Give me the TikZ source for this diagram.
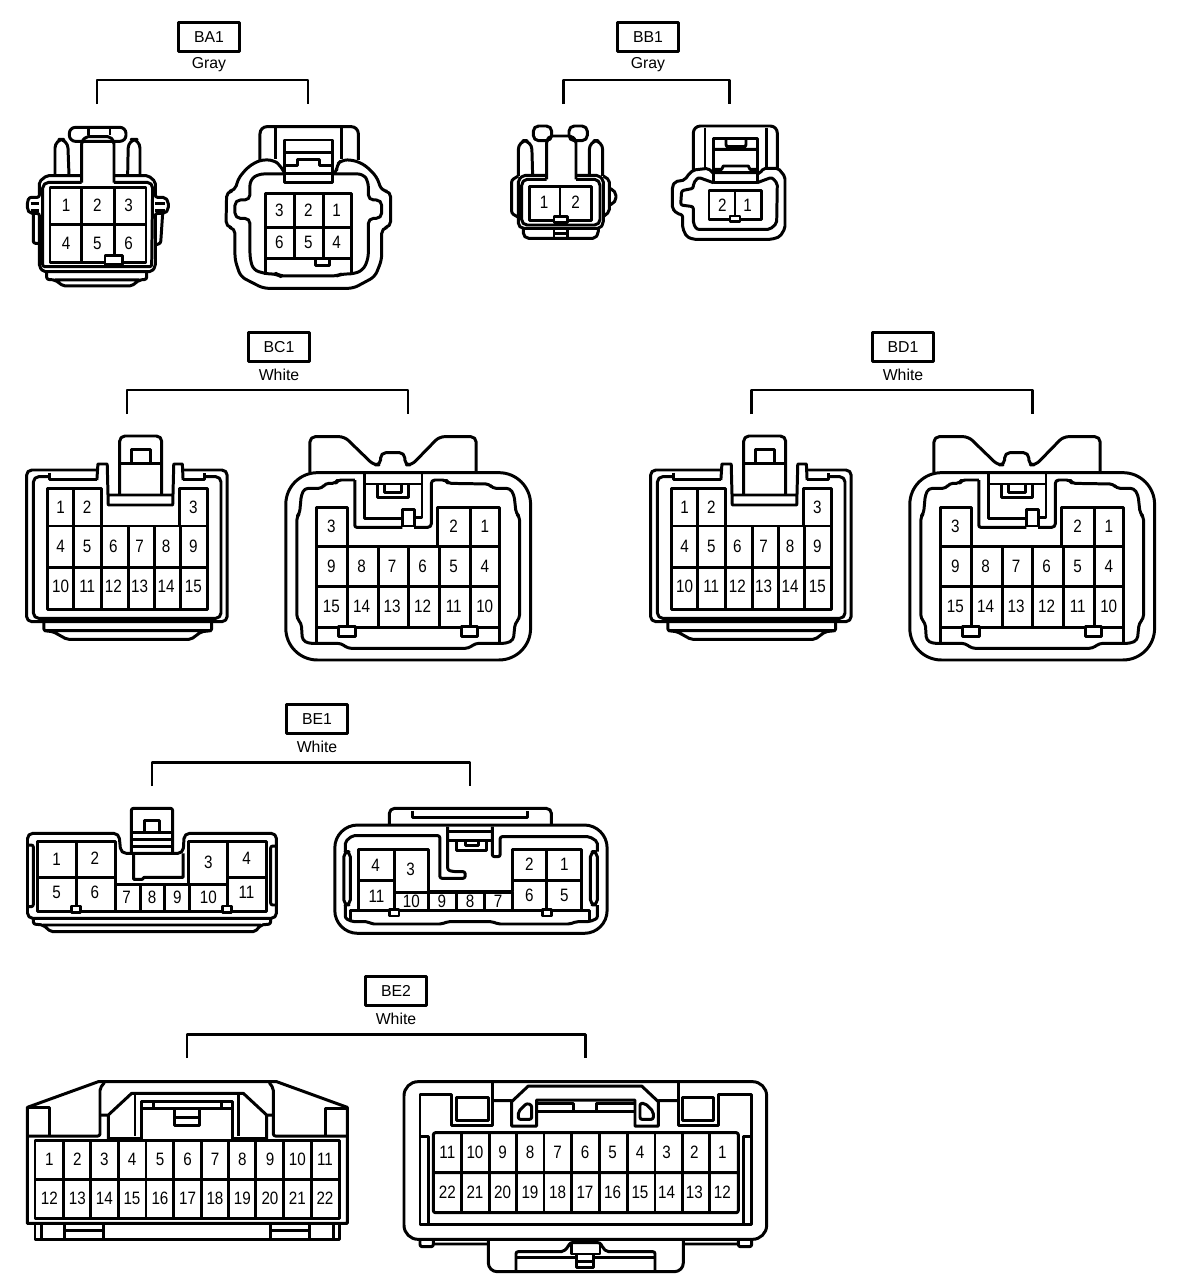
\documentclass[tikz,border=0pt]{standalone}
\usepackage{fontspec}
\setmainfont{Liberation Sans}
\newfontfamily\pinfont[FakeStretch=0.85]{Liberation Sans}
\tikzset{
	tagbox/.style={draw,sharp corners,minimum width=1.22cm,minimum height=0.57cm,inner sep=0pt,font=\fontsize{9}{9}\selectfont},
	tagtxt/.style={inner sep=0pt,font=\fontsize{9}{9}\selectfont},
	pin/.style={inner sep=0pt,font=\pinfont\fontsize{10.2}{10.2}\selectfont},
	keybox/.style={draw,fill=white},
	crop/.style={x=0.0066667cm,y=-0.0066667cm},
	cropbc/.style={x=0.0068966cm,y=-0.0066667cm},
	cropbe/.style={x=0.007782cm,y=-0.0066667cm},
}
\begin{document}
\begin{tikzpicture}[x=0.02cm,y=-0.02cm,line width=1.7pt,rounded corners=1.2pt,line join=round]
	\useasboundingbox (0,0) rectangle (1200,1288);

	% labels and brackets
	\foreach \nm/\txt/\col/\cx/\cy/\xl/\xr/\yb in {ba/BA1/Gray/209/37/97/308/104,bb/BB1/Gray/648/37/563/729/104,bc/BC1/White/279/347/127/408/414,bd/BD1/White/903/347/751/1032/414,be/BE1/White/317/719/152/470/786,bf/BE2/White/396/991/187/585/1058}{
		\node[tagbox] (\nm) at (\cx,\cy) {\txt};
		\node[tagtxt] (\nm col) at (\cx,\cy+28) {\col};
		\coordinate (\nm a) at (\xl,\yb);
		\coordinate (\nm b) at (\xr,\yb);
		\draw[sharp corners] (\nm a) -- ++(0,-24) -| (\nm b);
	}

	% BA1
	\begin{scope}[crop]
		\draw[rounded corners=3.5pt] (208,382) rectangle (378,424);
		\draw (265,382) -- (265,406) (330,382) -- (330,406);
		\draw (245,548) -- (245,425) -- (258,410) -- (330,410) -- (342,425) -- (342,548);
		\draw[rounded corners=5pt] (165,525) -- (165,418) -- (203,418) -- (207,525);
		\draw[rounded corners=5pt] (383,525) -- (385,418) -- (420,418) -- (420,525);
		\draw (245,527) -- (140,527) -- (118,545) -- (118,592) -- (88,592) -- (82,605) -- (82,628) -- (90,640) -- (118,640) -- (118,800) -- (130,815) -- (455,815) -- (466,800) -- (466,640) -- (495,640) -- (505,628) -- (505,605) -- (495,592) -- (466,592) -- (466,545) -- (445,527) -- (342,527);
		\draw (245,547) -- (140,547) -- (128,558) -- (128,800) -- (455,800) -- (458,558) -- (448,547) -- (342,547);
		\draw (92,610) -- (118,610) (92,632) -- (118,632) (466,610) -- (495,610) (466,632) -- (495,632);
		\draw (100,640) -- (100,730) -- (118,730) (488,640) -- (482,730) -- (466,735);
		\draw[sharp corners] (150,562) rectangle (438,788);
		\draw (150,675) -- (438,675) (245,562) -- (245,788) (343,562) -- (343,770);
		\draw[keybox,sharp corners] (315,768) rectangle (367,795);
		\draw (140,815) -- (140,838) -- (165,840) -- (190,858) -- (395,858) -- (418,840) -- (440,838) -- (440,815) (165,840) -- (418,840);
		\foreach \n/\px/\py in {1/198/615,2/292/615,3/386/615,4/198/730,5/292/730,6/386/730}{
			\node[pin] (bal\n) at (\px,\py) {\n};
		}
		% mating side
		\draw[rounded corners=3pt] (855,522) -- (840,495) -- (820,480) -- (780,480) -- (745,500) -- (715,535) -- (705,572) -- (680,575) -- (678,680) -- (705,685) -- (705,780) -- (722,830) -- (790,865) -- (1060,865) -- (1125,830) -- (1145,780) -- (1145,685) -- (1172,680) -- (1172,575) -- (1145,572) -- (1130,530) -- (1095,495) -- (1060,480) -- (1025,480) -- (1010,495) -- (1010,522) -- (997,522);
		\draw[rounded corners=4pt] (780,480) -- (780,380) -- (1075,380) -- (1075,480);
		\draw (828,385) -- (828,478) (1025,385) -- (1025,478);
		\draw[rounded corners=3pt] (855,522) -- (775,522) -- (750,540) -- (750,600) -- (705,600) -- (705,655) -- (750,655) -- (750,775) -- (760,810) -- (800,822) -- (830,822) -- (840,828) -- (1010,828) -- (1025,822) -- (1060,822) -- (1090,810) -- (1105,775) -- (1105,655) -- (1145,655) -- (1145,600) -- (1105,600) -- (1105,545) -- (1090,522) -- (997,522);
		\draw[fill=white,sharp corners] (855,420) rectangle (997,548);
		\draw (855,458) -- (997,458) (855,520) -- (997,520);
		\draw[sharp corners] (858,498) -- (893,498) -- (893,480) -- (960,480) -- (960,498) -- (995,498);
		\draw[sharp corners] (796,825) -- (796,582) -- (1055,582) -- (1055,825);
		\draw (796,682) -- (1055,682) (796,777) -- (1055,777) (885,582) -- (885,777) (970,582) -- (970,777);
		\draw[keybox,sharp corners] (948,775) rectangle (990,798);
		\foreach \n/\px/\py in {3/838/630,2/925/630,1/1010/630,6/838/728,5/925/728,4/1010/728}{
			\node[pin] (bar\n) at (\px,\py) {\n};
		}
	\end{scope}

	% BB1
	\begin{scope}[shift={(490,100)},crop]
		\draw[rounded corners=3pt] (130,78) rectangle (185,122) (237,78) rectangle (292,122);
		\draw (170,238) -- (170,122) -- (180,108) -- (245,108) -- (258,122) -- (258,238);
		\draw[rounded corners=5pt] (85,228) -- (85,122) -- (125,122) -- (128,228);
		\draw[rounded corners=5pt] (298,228) -- (298,122) -- (338,122) -- (338,228);
		\draw (170,226) -- (100,226) -- (85,240) -- (85,375) -- (95,385) -- (330,385) -- (340,370) -- (340,240) -- (325,226) -- (258,226);
		\draw (170,238) -- (105,238) -- (95,250) -- (95,365) -- (105,375) -- (320,375) -- (330,365) -- (330,250) -- (320,238) -- (258,238);
		\draw (85,228) -- (65,240) -- (65,340) -- (85,352) (340,228) -- (358,240) -- (358,335) -- (340,350);
		\draw[rounded corners=3pt] (358,265) -- (378,272) -- (378,308) -- (358,315);
		\draw[sharp corners] (118,260) rectangle (305,362) (210,260) -- (210,352);
		\draw[keybox,sharp corners] (192,350) rectangle (232,367);
		\draw (100,385) -- (100,405) -- (110,415) -- (315,415) -- (325,400) -- (325,385);
		\draw (192,385) -- (192,415) (232,385) -- (232,415) (192,400) -- (232,400);
		\foreach \n/\px/\py in {1/162/308,2/257/308}{
			\node[pin] (bbl\n) at (\px,\py) {\n};
		}
		% mating side
		\draw (670,220) -- (655,205) -- (610,210) -- (590,230) -- (585,240) -- (555,245) -- (547,260) -- (547,325) -- (560,340) -- (578,345) -- (578,385) -- (590,410) -- (610,418) -- (845,418) -- (870,410) -- (885,385) -- (885,230) -- (865,205) -- (820,205) -- (810,220) -- (802,222);
		\draw[rounded corners=4pt] (610,210) -- (610,78) -- (862,78) -- (862,205);
		\draw (645,85) -- (645,205) (830,85) -- (830,205);
		\draw (670,248) -- (625,232) -- (610,250) -- (610,265) -- (575,272) -- (572,315) -- (610,320) -- (610,370) -- (620,388) -- (840,388) -- (860,370) -- (862,250) -- (845,232) -- (802,248);
		\draw[fill=white,sharp corners] (670,115) rectangle (802,248);
		\draw (670,148) -- (802,148) (670,218) -- (802,218) (708,118) -- (708,140) -- (768,140) -- (768,118);
		\draw[sharp corners] (670,208) -- (695,208) -- (700,198) -- (775,198) -- (780,208) -- (802,208);
		\draw[sharp corners] (657,272) rectangle (815,358) (735,272) -- (735,348);
		\draw[keybox,sharp corners] (720,348) rectangle (750,365);
		\foreach \n/\px/\py in {2/697/315,1/773/315}{
			\node[pin] (bbr\n) at (\px,\py) {\n};
		}
	\end{scope}

	% BC1 and BD1
	\foreach \dx/\pre in {0/bc,624/bd}{
	\begin{scope}[shift={(10+\dx,420)},cropbc]
		\draw[rounded corners=3pt] (318,225) -- (318,48) -- (440,48) -- (440,225);
		\draw[sharp corners] (352,130) -- (352,88) -- (408,88) -- (408,130) (318,130) -- (440,130);
		\draw[rounded corners=3pt] (252,150) -- (48,150) -- (48,605) -- (630,605) -- (630,150) -- (500,150);
		\draw[sharp corners] (252,180) -- (255,132) -- (282,132) -- (285,255) -- (472,255) -- (475,132) -- (500,132) -- (502,180) (285,225) -- (472,225);
		\draw[rounded corners=3pt] (115,170) -- (68,170) -- (68,595) -- (612,595) -- (612,170) -- (565,170);
		\draw[sharp corners] (115,158) -- (115,178) -- (252,178) (502,178) -- (565,178) -- (565,158);
		\draw[sharp corners] (108,205) -- (265,205) -- (265,318) -- (492,318) -- (492,205) -- (572,205) -- (572,568) -- (108,568) -- cycle;
		\draw (185,205) -- (185,568) (265,318) -- (265,568) (343,318) -- (343,568) (418,318) -- (418,568) (495,318) -- (495,568) (108,318) -- (572,318) (108,442) -- (572,442);
		\draw (98,605) -- (98,632) -- (125,635) -- (165,658) -- (525,658) -- (555,635) -- (585,632) -- (585,605) (98,632) -- (585,632);
		\foreach \n/\px/\py in {1/147/262,2/224/262,3/532/262,4/147/378,5/224/378,6/300/378,7/376/378,8/453/378,9/532/378,10/147/500,11/224/500,12/300/500,13/376/500,14/453/500,15/532/500}{
			\node[pin] (\pre l\n) at (\px,\py) {\n};
		}
		% mating side
		\draw[rounded corners=3pt] (870,158) -- (870,50) -- (970,50) -- (1055,135) -- (1075,135) -- (1075,98) -- (1145,98) -- (1145,135) -- (1165,135) -- (1245,50) -- (1352,50) -- (1352,158);
		\draw[rounded corners=18pt] (1100,158) -- (800,158) -- (800,720) -- (1510,720) -- (1510,158) -- cycle;
		\draw[rounded corners=2pt] (1000,180) -- (950,180) -- (945,190) -- (915,190) -- (905,205) -- (855,205) -- (845,225) -- (840,280) -- (832,290) -- (832,595) -- (845,610) -- (848,660) -- (865,670) -- (960,670) -- (980,685) -- (1330,685) -- (1350,670) -- (1440,670) -- (1460,660) -- (1465,610) -- (1478,595) -- (1478,290) -- (1468,280) -- (1462,225) -- (1450,205) -- (1400,205) -- (1390,192) -- (1270,190) -- (1265,180) -- (1222,180) -- (1222,322) -- (1172,322);
		\draw (1000,180) -- (1000,322) -- (1138,322);
		\draw[sharp corners] (1027,158) -- (1027,295) -- (1138,295) (1195,158) -- (1195,292) -- (1172,292) (1027,192) -- (1195,192);
		\draw[sharp corners] (1065,192) -- (1065,232) -- (1155,232) -- (1155,192) (1085,192) -- (1085,218) -- (1135,218) -- (1135,192);
		\draw[keybox,sharp corners] (1138,268) rectangle (1172,318);
		\draw[sharp corners] (888,670) -- (888,262) -- (978,262) -- (978,380) -- (1240,380) -- (1240,262) -- (1420,262) -- (1420,670);
		\draw (978,380) -- (978,622) (1068,380) -- (1068,622) (1155,380) -- (1155,622) (1245,380) -- (1245,622) (1335,262) -- (1335,622) (888,380) -- (1420,380) (888,500) -- (1420,500) (888,622) -- (1420,622);
		\draw[keybox,sharp corners] (952,620) rectangle (1002,650) (1310,620) rectangle (1355,650);
		\foreach \n/\px/\py in {3/932/320,2/1287/320,1/1377/320,9/932/438,8/1020/438,7/1108/438,6/1197/438,5/1287/438,4/1377/438,15/932/560,14/1020/560,13/1108/560,12/1197/560,11/1287/560,10/1377/560}{
			\node[pin] (\pre r\n) at (\px,\py) {\n};
		}
	\end{scope}
	}

	% BE1
	\begin{scope}[shift={(10,790)},cropbe]
		\draw (312,190) -- (312,55) -- (418,55) -- (418,190);
		\draw[sharp corners] (345,128) -- (345,90) -- (385,90) -- (385,128) (312,128) -- (418,128) (312,148) -- (415,148) (312,168) -- (415,168);
		\draw[rounded corners=3pt] (312,190) -- (285,190) -- (280,130) -- (45,130) -- (45,385) -- (685,385) -- (685,130) -- (448,130) -- (445,190) -- cycle;
		\draw[sharp corners] (318,190) -- (318,268) -- (340,268) -- (345,262) -- (445,262) -- (445,190);
		\draw (48,165) -- (60,165) -- (60,350) -- (48,350) (682,168) -- (670,168) -- (670,345) -- (682,345);
		\draw[sharp corners] (70,155) -- (270,155) -- (270,282) -- (458,282) -- (458,155) -- (660,155) -- (660,365) -- (70,365) -- cycle;
		\draw (172,155) -- (172,365) (270,155) -- (270,365) (335,282) -- (335,365) (398,282) -- (398,365) (462,282) -- (462,365) (560,155) -- (560,365) (70,262) -- (270,262) (560,262) -- (660,262) (270,284) -- (560,284);
		\draw[keybox,sharp corners] (158,348) rectangle (182,368) (547,348) rectangle (570,368);
		\draw (60,385) -- (60,402) -- (85,405) -- (105,425) -- (630,425) -- (645,405) -- (670,402) -- (670,385) (85,405) -- (645,405);
		\foreach \n/\px/\py in {1/120/208,2/218/205,3/510/218,4/608/205,5/120/308,6/218/308,7/300/322,8/365/322,9/430/322,10/510/322,11/608/308}{
			\node[pin] (bel\n) at (\px,\py) {\n};
		}
		% mating side
		\draw[rounded corners=3pt] (975,105) -- (975,55) -- (1392,55) -- (1392,105);
		\draw[sharp corners] (1035,62) -- (1035,82) -- (1330,82) -- (1330,62);
		\draw[rounded corners=13pt] (835,105) rectangle (1535,430);
		\draw (1125,110) -- (1125,240) -- (1140,245) -- (1170,245) -- (1170,265) -- (1105,265) -- (1105,137) -- (880,137) -- (862,155) -- (862,185);
		\draw (1240,110) -- (1240,200) -- (1260,200) -- (1260,140) -- (1490,140) -- (1510,155) -- (1510,185);
		\draw (1125,125) -- (1240,125) (1125,150) -- (1240,150);
		\draw[sharp corners] (1148,150) -- (1148,182) -- (1225,182) -- (1225,150) (1170,150) -- (1170,165) -- (1205,165) -- (1205,150);
		\draw[rounded corners=3pt] (858,185) rectangle (875,345) (1492,185) rectangle (1510,345);
		\draw (862,345) -- (862,385) -- (880,395) -- (920,395) -- (930,402) -- (1110,402) -- (1125,395) -- (1240,395) -- (1255,402) -- (1440,402) -- (1455,395) -- (1490,395) -- (1510,385) -- (1510,345);
		\draw[sharp corners] (897,362) -- (897,178) -- (1075,178) -- (1075,305) -- (1293,305) -- (1293,178) -- (1470,178) -- (1470,362) (875,392) -- (875,362) -- (1490,362) -- (1490,392);
		\draw (988,178) -- (988,362) (1075,305) -- (1075,362) (1148,305) -- (1148,362) (1220,305) -- (1220,362) (1293,305) -- (1293,362) (1380,178) -- (1380,362) (897,272) -- (988,272) (1293,272) -- (1470,272) (988,308) -- (1293,308);
		\draw[keybox,sharp corners] (975,358) rectangle (1000,378) (1368,358) rectangle (1393,378);
		\foreach \n/\px/\py in {4/940/225,3/1030/238,2/1335/222,1/1425/222,11/942/318,10/1032/335,9/1110/335,8/1183/335,7/1255/335,6/1335/315,5/1425/315}{
			\node[pin] (ber\n) at (\px,\py) {\n};
		}
	\end{scope}

	% BE2
	\begin{scope}[shift={(10,1070)},crop]
		\draw[sharp corners] (52,460) -- (52,112) -- (265,35) -- (800,35) -- (1012,112) -- (1012,460) -- cycle;
		\draw[sharp corners] (52,112) -- (118,112) -- (118,198) (1012,115) -- (948,115) -- (948,198);
		\draw (52,198) -- (270,198) -- (270,55) -- (283,38) (1012,198) -- (790,198) -- (790,55) -- (778,38);
		\draw[sharp corners] (75,210) rectangle (988,445) (75,328) -- (988,328);
		\foreach \vx in {160,242,325,408,492,575,657,738,822,905}{
			\draw[sharp corners] (\vx,210) -- (\vx,445);
		}
		\draw[sharp corners] (295,210) -- (295,135) -- (365,70) -- (700,70) -- (770,135) -- (770,210) (272,135) -- (295,135) (770,135) -- (790,135);
		\draw (375,75) -- (375,198) (685,75) -- (685,198) (295,205) -- (395,205) (668,205) -- (770,205);
		\draw[fill=white,sharp corners] (395,208) -- (395,95) -- (668,95) -- (668,208);
		\draw[sharp corners] (395,115) -- (668,115) (430,95) -- (430,115) (635,95) -- (635,115) (495,115) -- (495,165) -- (570,165) -- (570,115) (495,142) -- (570,142);
		\draw[sharp corners] (75,460) -- (75,508) -- (990,508) -- (990,460) (95,460) -- (95,508) (972,460) -- (972,508) (163,460) -- (163,508) (280,460) -- (280,508) (163,482) -- (280,482) (782,460) -- (782,508) (898,460) -- (898,508) (782,482) -- (898,482);
		\foreach \n/\px in {1/118,2/202,3/283,4/366,5/450,6/533,7/615,8/697,9/780,10/862,11/945}{
			\node[pin] (bfl\n) at (\px,267) {\n};
		}
		\foreach \n/\px in {12/118,13/202,14/283,15/366,16/450,17/533,18/615,19/697,20/780,21/862,22/945}{
			\node[pin] (bfl\n) at (\px,385) {\n};
		}
	\end{scope}
	\begin{scope}[shift={(390,1070)},crop]
		\draw[rounded corners=8pt] (42,35) rectangle (1130,508);
		\draw[sharp corners] (308,37) -- (308,165) -- (185,165) -- (185,72) -- (90,72) -- (90,462) -- (1085,462) -- (1085,72) -- (985,72) -- (985,165) -- (865,165) -- (865,37);
		\draw[sharp corners] (200,82) rectangle (295,152) (878,82) rectangle (972,152);
		\draw[sharp corners] (365,168) -- (365,95) -- (415,48) -- (755,48) -- (805,95) -- (805,168) -- (735,168) -- (735,90) -- (440,90) -- (440,168) -- cycle (308,92) -- (365,92) (805,92) -- (865,92);
		\draw (385,148) -- (385,125) -- (410,100) -- (425,105) -- (425,148) -- cycle (750,148) -- (750,100) -- (765,100) -- (790,125) -- (790,148) -- cycle;
		\draw[sharp corners] (440,100) -- (550,100) -- (550,125) (620,125) -- (620,100) -- (735,100) (440,125) -- (735,125);
		\draw (130,188) rectangle (1045,428) (130,308) -- (1045,308);
		\foreach \vx in {215,298,380,462,545,628,712,795,878,960}{
			\draw[sharp corners] (\vx,188) -- (\vx,428);
		}
		\draw[sharp corners] (90,200) -- (115,200) -- (115,462) (1085,200) -- (1060,200) -- (1060,462);
		\draw (90,508) -- (90,530) -- (130,530) -- (130,508) (130,522) -- (295,522) (1045,508) -- (1045,530) -- (1085,530) -- (1085,508) (880,522) -- (1045,522);
		\draw[rounded corners=5pt] (295,510) -- (295,605) -- (880,605) -- (880,510);
		\draw (378,600) -- (378,545) -- (520,545) -- (535,530) -- (540,518) -- (630,518) -- (640,535) -- (650,545) -- (795,545) -- (795,600);
		\draw[sharp corners] (545,520) -- (545,552) -- (630,552) -- (630,520) (560,552) -- (560,592) -- (610,592) -- (610,552) (560,575) -- (610,575) (380,562) -- (560,562) (610,562) -- (795,562);
		\foreach \n/\px in {11/172,10/255,9/338,8/420,7/503,6/585,5/668,4/750,3/830,2/913,1/997}{
			\node[pin] (bfr\n) at (\px,248) {\n};
		}
		\foreach \n/\px in {22/172,21/255,20/338,19/420,18/503,17/585,16/668,15/750,14/830,13/913,12/997}{
			\node[pin] (bfr\n) at (\px,367) {\n};
		}
	\end{scope}
\end{tikzpicture}
\end{document}
